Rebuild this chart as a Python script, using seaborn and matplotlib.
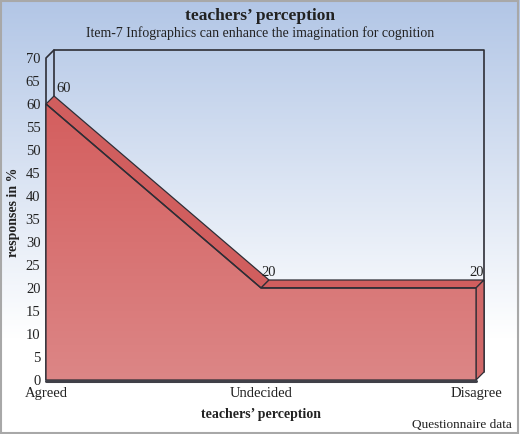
import numpy as np
import pandas as pd
import matplotlib
matplotlib.use("Agg")
import matplotlib.pyplot as plt
import seaborn as sns
from matplotlib.patches import Polygon, Rectangle
from matplotlib.lines import Line2D
from matplotlib.colors import LinearSegmentedColormap

# ---- data ----
categories = ["Agreed", "Undecided", "Disagree"]
values = [60, 20, 20]
y_ticks = list(range(0, 75, 5))
title = "teachers\u2019 perception"
subtitle = "Item-7 Infographics can enhance the imagination for cognition"
x_title = "teachers\u2019 perception"
y_title = "responses in %"
credit = "Questionnaire data"

sns.set_theme(style="white")
plt.rcParams["font.family"] = ["Liberation Serif", "DejaVu Serif"]

W, H, DPI = 520, 434, 100
fig = plt.figure(figsize=(W / DPI, H / DPI), dpi=DPI)

# background gradient
bg = fig.add_axes([0, 0, 1, 1], zorder=-10)
bg.set_axis_off()
grad = np.linspace(0, 1, 256).reshape(-1, 1)
bg_cmap = LinearSegmentedColormap.from_list("bg", [(0, "#b2c6e6"), (0.78, "#ffffff"), (1, "#ffffff")])
bg.imshow(grad, aspect="auto", cmap=bg_cmap, extent=[0, 1, 0, 1], origin="upper")
bg.set_xlim(0, 1); bg.set_ylim(0, 1)
bg.add_patch(Rectangle((0.002, 0.003), 0.995, 0.994, fill=False, edgecolor="#a8a8a8", lw=1.5,
                       transform=bg.transAxes))

left, right = 46 / W, 476 / W
bottom, top = (H - 380) / H, (H - 58) / H
ax = fig.add_axes([left, bottom, right - left, top - bottom])
ax.set_facecolor("none")
x = np.arange(len(categories))
xmax = len(categories) - 1
ax.set_xlim(0, xmax)
ax.set_ylim(0, 70)
for s in ax.spines.values():
    s.set_visible(False)
ax.set_yticks(y_ticks)
ax.set_yticklabels([str(t) for t in y_ticks], fontsize=10.5, color="#222222")
ax.set_xticks(x)
ax.set_xticklabels(categories, fontsize=10.5, color="#222222")
ax.tick_params(axis="both", length=0, pad=4)
ax.tick_params(axis="x", pad=5)
ax.set_xlabel(x_title, fontsize=10, fontweight="bold", color="#222222", labelpad=6)
ax.set_ylabel(y_title, fontsize=10, fontweight="bold", color="#222222")
ax.yaxis.set_label_coords(-26 / 430, (380 - 212) / 322)

fig.canvas.draw()
DX, DY = 8, 8  # depth in display pixels

def P(xv, yv, z=0):
    px, py = ax.transData.transform((xv, yv))
    return (px + z * DX, py + z * DY)

ident = matplotlib.transforms.IdentityTransform()
edge = "#2e2e36"

def add_line(pts, **kw):
    ln = Line2D([p[0] for p in pts], [p[1] for p in pts], transform=ident, clip_on=False, **kw)
    ax.add_artist(ln)

def add_poly(pts, **kw):
    pg = Polygon(pts, closed=True, transform=ident, clip_on=False, **kw)
    ax.add_artist(pg)

ymax = ax.get_ylim()[1]
# back wall frame lines
add_line([P(0, 0, 1), P(0, ymax, 1), P(xmax, ymax, 1), P(xmax, 0, 1)], color=edge, lw=1.2, zorder=1)
add_line([P(0, 0), P(0, ymax), P(0, ymax, 1)], color=edge, lw=1.2, zorder=1)

# top faces (slanted segments)
for i in range(len(values) - 1):
    quad = [P(x[i], values[i]), P(x[i + 1], values[i + 1]), P(x[i + 1], values[i + 1], 1), P(x[i], values[i], 1)]
    add_poly(quad, facecolor="#d05e5e", edgecolor=edge, lw=0.9, zorder=2)
# right side face
add_poly([P(xmax, 0), P(xmax, values[-1]), P(xmax, values[-1], 1), P(xmax, 0, 1)],
         facecolor="#d06868", edgecolor=edge, lw=0.9, zorder=2)

# front face with vertical gradient
verts = [P(xi, vi) for xi, vi in zip(x, values)] + [P(xmax, 0), P(0, 0)]
fcmap = LinearSegmentedColormap.from_list("front", ["#d45e5e", "#dc8686"])
im = ax.imshow(grad, aspect="auto", cmap=fcmap, extent=[0, xmax, 0, max(values)], origin="upper",
               zorder=3)
clip = Polygon(verts, closed=True, transform=ident)
im.set_clip_path(clip)
add_poly(verts, facecolor="none", edgecolor=edge, lw=0.9, zorder=4)
ax.set_xlim(0, xmax); ax.set_ylim(0, 70)
sns.lineplot(x=x, y=values, ax=ax, color=edge, lw=1.0, zorder=5, legend=False)
# bottom edge
p0, p1 = P(0, 0), P(xmax, 0)
add_line([(p0[0], p0[1] - 1), (p1[0], p1[1] - 1)], color="#404048", lw=2.2, zorder=6)

# data labels
for xi, vi in zip(x, values):
    px, py = P(xi, vi, 1)
    ha = "left" if xi == 0 else ("right" if xi == xmax else "center")
    ox = 2 if xi == 0 else 0
    t = ax.text(px + ox, py + 1, str(vi), transform=ident, fontsize=10.5, color="#222222",
                ha=ha, va="bottom", zorder=7, clip_on=False)

fig.text(0.5, 1 - 16 / H, title, ha="center", va="center", fontsize=12.5, fontweight="bold", color="#222222")
fig.text(0.5, 1 - 33 / H, subtitle, ha="center", va="center", fontsize=10, color="#222222")
fig.text(1 - 8 / W, 1 - 425 / H, credit, ha="right", va="center", fontsize=9.5, color="#222222")

fig.savefig("out.png", dpi=DPI)
